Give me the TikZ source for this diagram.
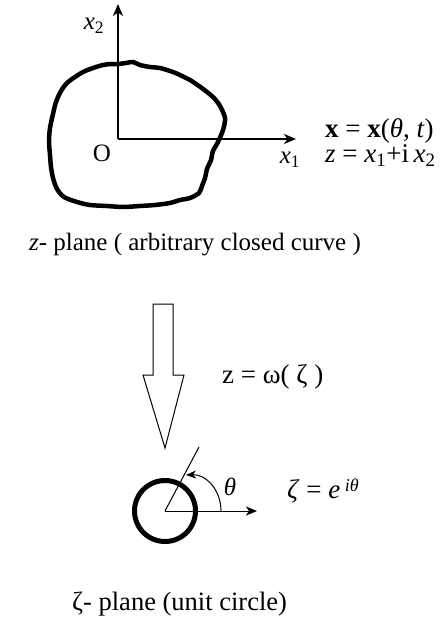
\documentclass[tikz,border=0pt]{standalone}
\usepackage{fontspec}
\setmainfont{Liberation Serif}
\usetikzlibrary{arrows.meta}
\begin{document}
\begin{tikzpicture}[x=1pt,y=-1pt,
  lbl/.style={font=\fontsize{25}{28}\selectfont, inner sep=0pt},
  eqn/.style={font=\fontsize{27}{30}\selectfont, inner sep=0pt, anchor=west},
  axis/.style={line width=1.4pt, -{Stealth[length=12pt,width=10pt,inset=3.5pt]}},
  thin/.style={line width=1pt},
  curve/.style={line width=4.5pt, line join=round}]
\useasboundingbox (0,0) rectangle (439,621);
% z-plane
\coordinate (O) at (118,139);
\coordinate (X1) at (296,139);
\coordinate (X2) at (118,4);
\draw[curve] plot[smooth cycle, tension=0.5] coordinates {
 (118,64) (126,63) (133,62) (140,65) (150,67) (160,68) (173,72) (182,76) (190,80) (199,86) (207,92) (214,98) (220,106)
 (225,118) (223,130) (218,142) (213,151) (211,160) (207,169) (205,178) (202,186) (199,193)
 (190,198) (180,200) (170,203) (155,205) (140,206) (123,207) (107,206) (90,205) (77,202) (64,197) (57,189) (53,178)
 (51,167) (50,155) (49,141) (50,128) (53,114) (56,102) (61,91) (67,83) (75,77) (83,72) (93,68) (103,65) (111,64)};
\draw[axis] (O) -- (X1);
\draw[axis] (O) -- (X2);
\node[lbl] (x2) at (94,26) {\textit{x}\textsubscript{2}};
\node[lbl] (o) at (102,153) {O};
\node[lbl] (x1) at (290,160) {\textit{x}\textsubscript{1}};
\node[eqn] (eq1) at (325,131) {\textbf{x} = \textbf{x}(\textit{θ}, \textit{t})};
\node[eqn] (eq2) at (325,156) {\textit{z} = \textit{x}\textsubscript{1}+i\,\textit{x}\textsubscript{2}};
\node[lbl] (cap1) at (195,245) {\textit{z}- plane ( arbitrary closed curve )};
% block arrow
\draw[thin, line join=miter] (153,304) -- (173,304) -- (173,375) -- (184,375) -- (165,448) -- (143,375) -- (153,375) -- cycle;
\node[eqn] (map) at (222,377) {z = ω( ζ )};
% zeta-plane
\coordinate (C) at (165,511);
\coordinate (R) at (257,511);
\coordinate (L) at (199,447);
\draw[line width=5pt] (C) circle (30.5);
\draw[thin, -{Stealth[length=11pt,width=9pt,inset=3pt]}] (C) -- (R);
\draw[thin] (C) -- (L);
\draw[thin, -{Stealth[length=10pt,width=8pt,inset=3pt]}] (221,511) .. controls (221,490) and (206,474) .. (186,475);
\node[lbl] (th) at (230,487) {\textit{θ}};
\node[eqn] (eq3) at (287,491) {\textit{ζ} = \textit{e}\,\raisebox{0.55ex}{\fontsize{18}{20}\selectfont\textit{iθ}}};
\node[lbl, font=\fontsize{26.5}{29}\selectfont, anchor=west] (cap2) at (72,604) {ζ- plane (unit circle)};
\end{tikzpicture}
\end{document}
